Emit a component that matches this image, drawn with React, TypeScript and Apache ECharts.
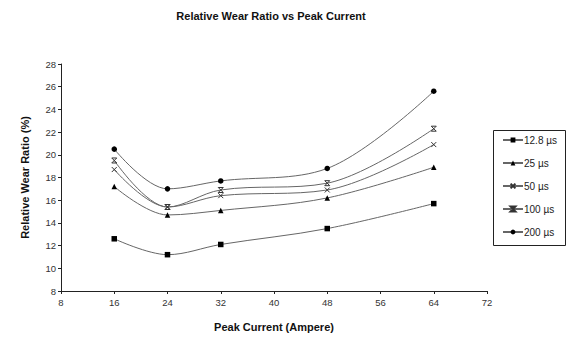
import React, { useEffect, useRef } from "react";
import * as echarts from "echarts";

const peakCurrent = [16, 24, 32, 48, 64];
const seriesNames = ["12.8 µs", "25 µs", "50 µs", "100 µs", "200 µs"];
const s12_8 = [12.6, 11.2, 12.1, 13.5, 15.7];
const s25 = [17.2, 14.7, 15.1, 16.2, 18.9];
const s50 = [18.7, 15.4, 16.4, 16.9, 20.9];
const s100 = [19.5, 15.4, 16.9, 17.5, 22.3];
const s200 = [20.5, 17.0, 17.7, 18.8, 25.6];

const FONT = "Liberation Sans, Arial, sans-serif";

export default function App() {
  const ref = useRef<HTMLDivElement>(null);
  useEffect(() => {
    if (!ref.current) return;
    const chart = echarts.init(ref.current, undefined, { renderer: "svg" });
    const values = [s12_8, s25, s50, s100, s200];
    const symbols = [
      "rect",
      "triangle",
      "path://M0,0L10,10M10,0L0,10",
      "path://M0,0L10,0L0,10L10,10Z",
      "circle",
    ];
    const sizes = [5.5, 5.5, 5, 5, 5.5];
    const stroked = [false, false, true, true, false];
    const series = values.map((v, i) => ({
      name: seriesNames[i],
      type: "line",
      data: v.map((y, j) => [peakCurrent[j], y]),
      smooth: 0.35,
      symbol: symbols[i],
      symbolSize: sizes[i],
      showSymbol: true,
      lineStyle: { color: "#666", width: 1 },
      itemStyle: stroked[i]
        ? { color: "rgba(0,0,0,0)", borderColor: "#333", borderWidth: 1 }
        : { color: "#000", borderWidth: 0 },
      emphasis: { disabled: true },
    }));
    chart.setOption({
      animation: false,
      backgroundColor: "#fff",
      textStyle: { fontFamily: FONT },
      title: {
        text: "Relative Wear Ratio vs Peak Current",
        left: 266,
        top: 5,
        textAlign: "center",
        textStyle: { fontSize: 11, fontWeight: "bold", color: "#111", fontFamily: FONT },
      },
      grid: { left: 61, top: 64, width: 426, height: 231, containLabel: false },
      legend: {
        orient: "vertical",
        left: 497,
        top: 130,
        itemWidth: 20,
        itemHeight: 6,
        itemGap: 13,
        textStyle: { fontSize: 10, color: "#222", fontFamily: FONT, padding: [0, 0, 0, -4] },
        data: seriesNames,
      },
      graphic: [
        {
          type: "rect",
          shape: { x: 493.5, y: 130.5, width: 72, height: 115 },
          style: { fill: "none", stroke: "#222", lineWidth: 1 },
          silent: true,
        },
      ],
      xAxis: {
        type: "value",
        min: 8,
        max: 72,
        interval: 8,
        name: "Peak Current (Ampere)",
        nameLocation: "middle",
        nameGap: 30,
        nameTextStyle: { fontSize: 11, fontWeight: "bold", color: "#111", fontFamily: FONT },
        axisLine: { show: true, onZero: false, lineStyle: { color: "#222", width: 1 } },
        axisTick: { show: true, inside: false, length: 3, lineStyle: { color: "#222" } },
        axisLabel: { fontSize: 9.5, color: "#333", margin: 6, fontFamily: FONT },
        splitLine: { show: false },
      },
      yAxis: {
        type: "value",
        min: 8,
        max: 28,
        interval: 2,
        name: "Relative Wear Ratio (%)",
        nameLocation: "middle",
        nameGap: 31,
        nameRotate: 90,
        nameTextStyle: { fontSize: 11, fontWeight: "bold", color: "#111", fontFamily: FONT },
        axisLine: { show: true, onZero: false, lineStyle: { color: "#222", width: 1 } },
        axisTick: { show: true, inside: false, length: 3, lineStyle: { color: "#222" } },
        axisLabel: { fontSize: 9.5, color: "#333", margin: 5, fontFamily: FONT },
        splitLine: { show: false },
      },
      series,
    });
    return () => chart.dispose();
  }, []);
  return <div ref={ref} style={{ width: 568, height: 337, position: "absolute", left: 0, top: 0 }} />;
}
